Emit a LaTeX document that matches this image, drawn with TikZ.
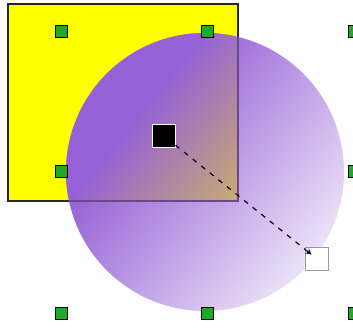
\documentclass[tikz,border=0pt]{standalone}
\usetikzlibrary{arrows.meta}
\definecolor{cP}{RGB}{150,97,214}
\definecolor{cW}{RGB}{236,226,248}
\definecolor{cY}{RGB}{236,226,39}
\definecolor{hgreen}{RGB}{30,170,40}
\definecolor{thru}{RGB}{105,72,140}
\definecolor{rectyellow}{RGB}{255,255,0}
\pgfdeclarehorizontalshading{overwhite}{100bp}{color(0bp)=(cP); color(34bp)=(cP); color(75bp)=(cW); color(100bp)=(cW)}
\pgfdeclarehorizontalshading{overyellow}{100bp}{color(0bp)=(cP); color(34bp)=(cP); color(75bp)=(cY); color(100bp)=(cY)}
\begin{document}
\begin{tikzpicture}[x=1pt,y=-1pt,
  handle/.style={draw=black, line width=0.9pt, fill=hgreen, minimum size=12pt, inner sep=0pt, outer sep=0pt},
  rectbox/.style={draw=black!85, line width=1.3pt, fill=rectyellow, minimum width=230pt, minimum height=197pt, inner sep=0pt, outer sep=0pt, anchor=north west},
  startbox/.style={draw=white, line width=0.8pt, fill=black, minimum size=23pt, inner sep=0pt, outer sep=0pt},
  endbox/.style={draw=black!40, line width=1.6pt, fill=white, minimum size=23pt, inner sep=0pt, outer sep=0pt},
  gradline/.style={draw=black!80!blue, line width=1.2pt, dash pattern=on 5pt off 6pt, -{Stealth[length=6pt,width=6pt]}, shorten >=7pt}]
\useasboundingbox (0,0) rectangle (353,328);
\node[rectbox] (rect) at (8,4) {};
\shade[shading=overwhite, shading angle=-38.8] (205,172) circle (139pt);
\begin{scope}
  \clip (rect.north west) rectangle (rect.south east);
  \shade[shading=overyellow, shading angle=-38.8] (205,172) circle (139pt);
\end{scope}
\begin{scope}
  \clip (205,172) circle (139pt);
  \draw[thru, line width=1.3pt] (rect.north east) -- (rect.south east) -- (rect.south west);
\end{scope}
\node[handle] (h1) at (61,31) {};
\node[handle] (h2) at (207,31) {};
\node[handle] (h3) at (354,31) {};
\node[handle] (h4) at (61,171) {};
\node[handle] (h5) at (354,171) {};
\node[handle] (h6) at (61,313) {};
\node[handle] (h7) at (207,313) {};
\node[handle] (h8) at (354,313) {};
\node[endbox] (wht) at (317,259) {};
\node[startbox] (blk) at (164,136) {};
\draw[gradline] (blk) -- (wht.center);
\end{tikzpicture}
\end{document}
